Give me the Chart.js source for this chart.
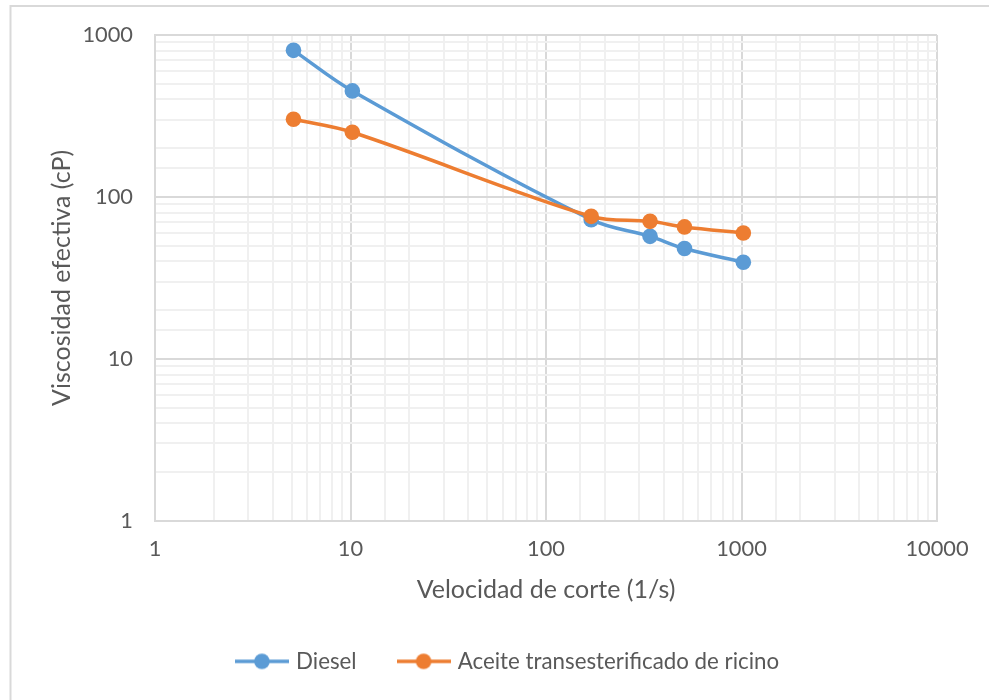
<!DOCTYPE html>
<html><head><meta charset="utf-8">
<script src="https://cdn.jsdelivr.net/npm/chart.js@4/dist/chart.umd.min.js"></script>
<style>html,body{margin:0;padding:0;background:#fff;} #wrap{position:relative;width:989px;height:700px;}</style>
</head><body><div id="wrap"><canvas id="c" width="989" height="700"></canvas></div>
<script>
const shearRate = [5.11, 10.22, 170.3, 340.6, 510.9, 1021.8];
const dieselVisc = [805, 452, 72.4, 57.1, 48.0, 39.5];
const ricinoVisc = [302, 251, 75.9, 70.7, 65.3, 59.9];
const seriesNames = ['Diesel', 'Aceite transesterificado de ricino'];
const seriesColors = ['#5B9BD5', '#ED7D31'];
const xTitle = 'Velocidad de corte (1/s)';
const yTitle = 'Viscosidad efectiva (cP)';
const xTickLabels = [1, 10, 100, 1000, 10000];
const yTickLabels = [1, 10, 100, 1000];

const FONT = 'Lato';
const TEXT = '#595959';
const isPow10 = v => Math.abs(Math.log10(v) - Math.round(Math.log10(v))) < 1e-9;

function markerImg(color) {
  const c = document.createElement('canvas');
  c.width = 54; c.height = 18;
  const g = c.getContext('2d');
  g.strokeStyle = color; g.lineWidth = 3.5;
  g.beginPath(); g.moveTo(0, 9); g.lineTo(54, 9); g.stroke();
  g.fillStyle = color; g.beginPath(); g.arc(27, 9, 7.8, 0, Math.PI * 2); g.fill();
  return c;
}
const markers = seriesColors.map(markerImg);

const toPts = ys => shearRate.map((x, i) => ({x, y: ys[i]}));

const frame = {
  id: 'frame',
  afterLayout(chart) {
    const lg = chart.legend;
    if (lg) {
      const w = lg.right - lg.left;
      const centre = 509;
      lg.left = centre - w / 2;
      lg.right = centre + w / 2;
    }
  },
  beforeDraw(chart) {
    const g = chart.ctx;
    g.save();
    g.strokeStyle = '#d9d9d9'; g.lineWidth = 2;
    g.beginPath();
    g.moveTo(10.5, 700); g.lineTo(10.5, 6); g.lineTo(989, 6);
    g.stroke();
    g.restore();
  }
};

const gridColor = ctx => (ctx.tick && isPow10(ctx.tick.value)) ? '#d9d9d9' : '#f0f0f0';

new Chart(document.getElementById('c'), {
  type: 'scatter',
  data: {
    datasets: [
      {label: seriesNames[0], data: toPts(dieselVisc), borderColor: seriesColors[0], backgroundColor: seriesColors[0],
       showLine: true, tension: 0.35, borderWidth: 3.5, pointRadius: 7.8, pointBorderWidth: 0, pointHoverRadius: 7.8, order: 1},
      {label: seriesNames[1], data: toPts(ricinoVisc), borderColor: seriesColors[1], backgroundColor: seriesColors[1],
       showLine: true, tension: 0.35, borderWidth: 3.5, pointRadius: 7.8, pointBorderWidth: 0, pointHoverRadius: 7.8, order: 0}
    ]
  },
  options: {
    responsive: false, animation: false, devicePixelRatio: 1,
    layout: {padding: {top: 34, left: 0, right: 52, bottom: 17.5}},
    scales: {
      x: {
        type: 'logarithmic', min: 1, max: 10000, position: 'bottom',
        afterFit: s => { s.height = 85.5; },
        grid: {color: gridColor, lineWidth: 2, drawTicks: false},
        border: {color: '#d9d9d9', width: 2},
        ticks: {autoSkip: false, maxRotation: 0, padding: 15, color: TEXT, font: {family: FONT, size: 21.8},
          callback: v => xTickLabels.find(t => Math.abs(t - v) < 1e-6) !== undefined ? String(v) : ''},
        title: {display: true, text: xTitle, color: TEXT, font: {family: FONT, size: 25}, padding: {top: 0, bottom: 1}}
      },
      y: {
        type: 'logarithmic', min: 1, max: 1000,
        afterFit: s => { s.width = 155; },
        grid: {color: gridColor, lineWidth: 2, drawTicks: false},
        border: {color: '#d9d9d9', width: 2},
        ticks: {autoSkip: false, padding: 22, color: TEXT, font: {family: FONT, size: 21.8},
          callback: v => yTickLabels.find(t => Math.abs(t - v) < 1e-6) !== undefined ? String(v) : ''},
        title: {display: true, text: yTitle, color: TEXT, font: {family: FONT, size: 25}, padding: {top: 47, bottom: 0}}
      }
    },
    plugins: {
      tooltip: {enabled: false},
      legend: {
        position: 'bottom',
        labels: {
          usePointStyle: true, pointStyleWidth: 46, padding: 44, color: TEXT,
          font: {family: FONT, size: 22.3},
          sort: (a, b) => a.datasetIndex - b.datasetIndex,
          generateLabels: chart => Chart.defaults.plugins.legend.labels.generateLabels(chart).map(it => {
            it.pointStyle = markers[it.datasetIndex];
            return it;
          })
        }
      }
    }
  },
  plugins: [frame]
});
</script>
</body></html>
